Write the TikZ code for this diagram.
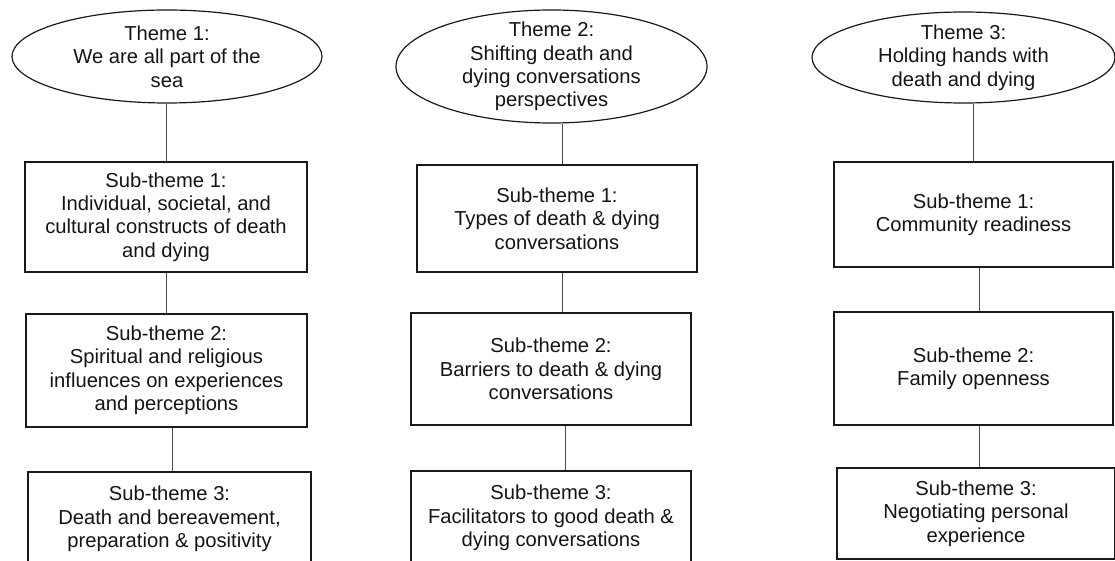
\documentclass[tikz,border=0pt]{standalone}
\usepackage{fontspec}
\setmainfont{Liberation Sans}
\usetikzlibrary{shapes.geometric}
\begin{document}
\begin{tikzpicture}[x=1pt,y=-1pt,
  lbl/.style={font=\fontsize{20.2}{23.4}\selectfont, align=center, text=black!92, inner sep=0pt},
  themeshape/.style={draw=black!90, line width=1.2pt, ellipse, inner sep=0pt},
  subbox/.style={lbl, draw=black!90, line width=1.8pt, rectangle},
  link/.style={draw=black!70, line width=0.9pt}]
\useasboundingbox (0,0) rectangle (1115,561);
\clip (0,0) rectangle (1115,561);

% Theme 1 column
\node[themeshape, minimum width=310, minimum height=93] (t1) at (167,56.5) {};
\node[lbl] (t1txt) at (t1) {Theme 1:\\We are all part of the\\sea};
\node[subbox, minimum width=282, minimum height=110] (a1) at (166,217)
  {Sub-theme 1:\\Individual, societal, and\\cultural constructs of death\\and dying};
\node[subbox, minimum width=281, minimum height=112.7] (a2) at (166.5,370.3)
  {Sub-theme 2:\\Spiritual and religious\\influences on experiences\\and perceptions};
\node[subbox, minimum width=283, minimum height=94] (a3) at (169.5,519)
  {Sub-theme 3:\\Death and bereavement,\\preparation \& positivity};

% Theme 2 column
\node[themeshape, minimum width=311, minimum height=113] (t2) at (551.5,66.5) {};
\node[lbl] (t2txt) at (t2) {Theme 2:\\Shifting death and\\dying conversations\\perspectives};
\node[subbox, minimum width=280, minimum height=107] (b1) at (557,218.5)
  {Sub-theme 1:\\Types of death \& dying\\conversations};
\node[subbox, minimum width=280, minimum height=112] (b2) at (551,369)
  {Sub-theme 2:\\Barriers to death \& dying\\conversations};
\node[subbox, minimum width=280, minimum height=94] (b3) at (551,518)
  {Sub-theme 3:\\Facilitators to good death \&\\dying conversations};

% Theme 3 column
\node[themeshape, minimum width=303, minimum height=91] (t3) at (963.5,57.5) {};
\node[lbl] (t3txt) at (t3) {Theme 3:\\Holding hands with\\death and dying};
\node[subbox, minimum width=279, minimum height=105] (c1) at (973.5,214.5)
  {Sub-theme 1:\\Community readiness};
\node[subbox, minimum width=279, minimum height=113] (c2) at (973.5,368.5)
  {Sub-theme 2:\\Family openness};
\node[subbox, minimum width=278, minimum height=91] (c3) at (976,513.5)
  {Sub-theme 3:\\Negotiating personal\\experience};

% Connectors
\draw[link] (t1.south -| 166,0) -- (a1.north -| 166,0);
\draw[link] (a1.south -| 166,0) -- (a2.north -| 166,0);
\draw[link] (a2.south -| 172.5,0) -- (a3.north -| 172.5,0);

\draw[link] (t2.south -| 562,0) -- (b1.north -| 562,0);
\draw[link] (b1.south -| 562,0) -- (b2.north -| 562,0);
\draw[link] (b2.south -| 565,0) -- (b3.north -| 565,0);

\draw[link] (t3.south -| 973.5,0) -- (c1.north -| 973.5,0);
\draw[link] (c1.south -| 979,0) -- (c2.north -| 979,0);
\draw[link] (c2.south -| 979,0) -- (c3.north -| 979,0);
\end{tikzpicture}
\end{document}
